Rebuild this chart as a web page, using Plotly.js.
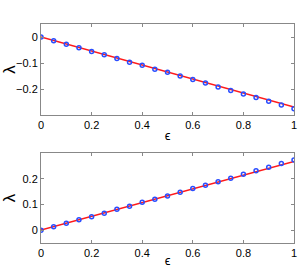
<!DOCTYPE html>
<html>
<head>
<meta charset="utf-8">
<script src="https://cdn.plot.ly/plotly-3.0.1.min.js"></script>
<style>html,body{margin:0;padding:0;background:#fff;}#chart{width:300px;height:268px;}</style>
</head>
<body>
<div id="chart"></div>
<script>
var epsilon = [0, 0.05, 0.10, 0.15, 0.20, 0.25, 0.30, 0.35, 0.40, 0.45, 0.50, 0.55, 0.60, 0.65, 0.70, 0.75, 0.80, 0.85, 0.90, 0.95, 1.00];
var lambdaTop = [0, -0.014, -0.028, -0.041, -0.056, -0.068, -0.083, -0.097, -0.109, -0.124, -0.136, -0.150, -0.163, -0.177, -0.192, -0.206, -0.219, -0.233, -0.247, -0.262, -0.276];
var lambdaBottom = [0, 0.013, 0.027, 0.040, 0.052, 0.066, 0.081, 0.093, 0.108, 0.120, 0.133, 0.147, 0.162, 0.175, 0.188, 0.202, 0.217, 0.231, 0.245, 0.259, 0.273];
var lineX = [0, 1];
var lineTop = [0, -0.269];
var lineBottom = [0, 0.267];
var xTicks = [0, 0.2, 0.4, 0.6, 0.8, 1];
var xTickText = ['0', '0.2', '0.4', '0.6', '0.8', '1'];
var yTopTicks = [0, -0.1, -0.2];
var yTopText = ['0', '\u22120.1', '\u22120.2'];
var yBottomTicks = [0, 0.1, 0.2];
var yBottomText = ['0', '0.1', '0.2'];

var markerStyle = {symbol: 'circle-open', size: 4, color: '#2a4dff', line: {width: 1.5, color: '#2a4dff'}};
var lineStyle = {color: '#ff1a1a', width: 1.5};

var traces = [
  {x: lineX, y: lineTop, mode: 'lines', line: lineStyle, xaxis: 'x', yaxis: 'y', hoverinfo: 'skip'},
  {x: epsilon, y: lambdaTop, mode: 'markers', marker: markerStyle, xaxis: 'x', yaxis: 'y'},
  {x: lineX, y: lineBottom, mode: 'lines', line: lineStyle, xaxis: 'x2', yaxis: 'y2', hoverinfo: 'skip'},
  {x: epsilon, y: lambdaBottom, mode: 'markers', marker: markerStyle, xaxis: 'x2', yaxis: 'y2'}
];

var font = {family: 'Liberation Sans, Arial, sans-serif', size: 11, color: '#000'};
function xAxis(anchor) {
  return {
    anchor: anchor, domain: [0, 1], range: [0, 1],
    tickmode: 'array', tickvals: xTicks, ticktext: xTickText,
    ticks: 'inside', ticklen: 3, tickcolor: '#888', tickwidth: 1,
    showline: true, linecolor: '#888', linewidth: 1, mirror: 'ticks',
    showgrid: false, zeroline: false, tickfont: font,
    title: {text: '\u03f5', font: {family: 'Liberation Sans, Arial, sans-serif', size: 13, color: '#000'}, standoff: 0}
  };
}
function yAxis(anchor, domain, range, vals, text) {
  return {
    anchor: anchor, domain: domain, range: range,
    tickmode: 'array', tickvals: vals, ticktext: text,
    ticks: 'inside', ticklen: 3, tickcolor: '#888', tickwidth: 1,
    showline: true, linecolor: '#888', linewidth: 1, mirror: 'ticks',
    showgrid: false, zeroline: false, tickfont: font,
    title: {text: '\u03bb', font: {family: 'Liberation Sans, Arial, sans-serif', size: 17, color: '#000'}, standoff: 2}
  };
}

var layout = {
  width: 300, height: 268,
  margin: {l: 41, r: 6, t: 24, b: 25},
  paper_bgcolor: '#fff', plot_bgcolor: '#fff',
  showlegend: false,
  xaxis: xAxis('y'),
  yaxis: yAxis('x', [0.5845, 1], [-0.3, 0.05], yTopTicks, yTopText),
  xaxis2: xAxis('y2'),
  yaxis2: yAxis('x2', [0, 0.411], [-0.05, 0.3], yBottomTicks, yBottomText),
  font: font
};

Plotly.newPlot('chart', traces, layout, {displayModeBar: false, staticPlot: true});
</script>
</body>
</html>
